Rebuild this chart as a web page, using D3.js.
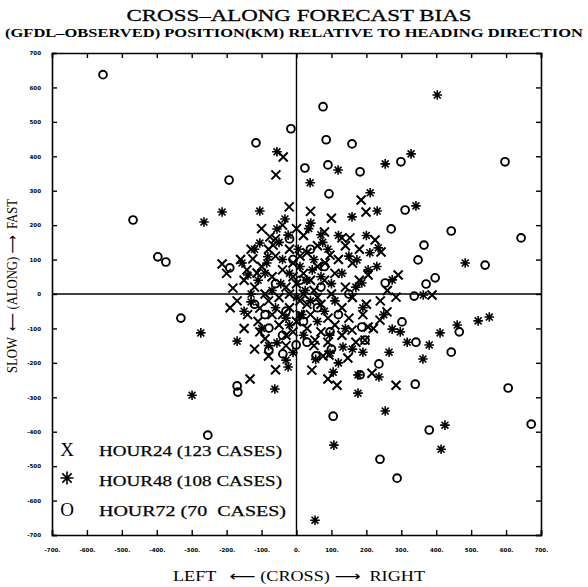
<!DOCTYPE html>
<html><head><meta charset="utf-8">
<script src="https://cdn.jsdelivr.net/npm/d3@7"></script>
<style>body{margin:0;background:#fff}svg{display:block}text{white-space:pre}</style>
</head><body>
<svg id="c" width="588" height="587"></svg>
<script>
const xTicks = [-700,-600,-500,-400,-300,-200,-100,0,100,200,300,400,500,600,700];
const yTicks = [-700,-600,-500,-400,-300,-200,-100,0,100,200,300,400,500,600,700];
const xTickLabels = ["-700.","-600.","-500.","-400.","-300.","-200.","-100.","0.","100.","200.","300.","400.","500.","600.","700."];
const yTickLabels = ["-700","-600","-500","-400","-300","-200","-100","0","100","200","300","400","500","600","700"];
const legendLabels = ["HOUR24 (123 CASES)","HOUR48 (108 CASES)","HOUR72 (70  CASES)"];

// HOUR24 (X) [cross, along]
const hour24 = [[-38,398],[-59,346],[185,273],[-21,253],[199,238],[130,163],[153,163],[-213,87],[-125,102],[-76,166],[-67,142],[-142,70],[-113,61],[-182,17],[96,113],[82,90],[205,55],[291,55],[388,-3],[285,-9],[239,-76],[259,-52],[-105,-110],[-105,-41],[-133,-247],[147,-186],[44,-221],[90,-247],[116,-265],[216,-230],[285,-265],[159,-105],[205,-96],[196,-134],[53,-134],[76,-180],[93,-177],[225,157],[242,122],
[-150,40],[-120,20],[-100,80],[-90,0],[-80,-20],[-70,50],[-60,110],[-50,-10],[-40,70],[-30,20],[-20,-40],[-10,90],[0,30],[10,-20],[20,60],[30,120],[40,-60],[50,10],[60,80],[70,-30],[80,40],[90,-70],[100,0],[110,60],[130,-40],[140,20],[160,-10],[180,40],[200,-30],[-170,-20],[-140,-60],[-110,-80],[-90,-130],[-70,-60],[-50,-90],[-30,-150],[-10,-110],[10,-60],[30,-100],[50,-150],[70,-110],[90,-140],[110,-90],[130,-120],[150,-70],[170,-140],[190,-60],[220,-100],[240,-20],[260,10],[-60,160],[-40,200],[-20,130],[0,190],[20,170],[40,240],[-100,190],[-80,130],[60,140],[80,180],[100,220],[120,100],[140,140],[160,90],[180,130],[-130,130],[-160,100],[-200,60],[-190,-40],[-150,-100],[-120,-160],[-80,-180],[-60,-220],[-40,-60],[-20,0],[0,-80],[20,0],[40,40],[60,-10],[-10,50],[10,110],[30,-30],[-30,-120]];

// HOUR48 (*)
const hour48 = [[403,578],[-56,413],[328,407],[254,378],[119,360],[39,323],[211,294],[-213,238],[-265,209],[-105,241],[159,224],[231,241],[342,256],[483,90],[-274,-113],[-170,-137],[-299,-294],[-62,-276],[-56,-142],[-30,-192],[-24,-212],[520,-78],[552,-67],[460,-90],[411,-113],[380,-148],[317,-140],[297,-110],[274,-102],[362,-189],[265,-169],[133,-154],[96,-172],[105,-227],[176,-235],[236,-241],[176,-288],[254,-340],[425,-381],[414,-451],[107,-439],[53,-657],[190,-169],[70,172],[41,206],[-156,90],[-105,148],[-33,218],[-56,189],[-24,171],[-82,108],[-139,55],[-130,-23],[173,99],[205,70],[187,32],[274,41],[234,134],[363,-3],
[-130,0],[-110,40],[-90,60],[-70,10],[-60,-40],[-40,100],[-30,-70],[-20,60],[0,-10],[10,80],[20,-120],[30,40],[40,-20],[50,100],[60,-80],[70,50],[80,-50],[90,130],[100,30],[110,-20],[120,170],[130,60],[140,-100],[150,110],[170,20],[190,-40],[210,120],[230,80],[250,-60],[-150,-50],[-100,-100],[-80,-150],[-50,150],[-10,-170],[15,-60],[35,190],[55,-190],[75,150],[95,-120],[-20,-90],[-45,30],[5,130],[45,70],[-85,90],[160,-160],[200,170],[120,-200],[-120,130],[25,10]];

// HOUR72 (O)
const hour72 = [[-554,637],[76,544],[-16,480],[85,448],[159,436],[-116,439],[299,384],[597,384],[24,366],[90,375],[182,355],[-193,331],[93,291],[311,244],[-468,215],[271,189],[443,183],[643,163],[365,142],[-397,108],[-374,93],[348,99],[540,84],[-191,76],[397,47],[371,29],[337,-6],[-331,-70],[302,-81],[466,-110],[342,-140],[443,-169],[236,-203],[340,-262],[606,-273],[672,-378],[380,-395],[105,-355],[239,-480],[288,-535],[-254,-410],[-170,-267],[-168,-285],[-79,-163],[-39,-174],[-1,-148],[182,-235],[56,-180],[96,-110],[187,-96],[196,-134],[-79,-99],[254,32],
[-30,-50],[20,-80],[60,-40],[-60,30],[10,40],[40,130],[-10,100],[70,20],[-90,-60],[120,-60],[-40,-120],[150,0],[30,-140],[-20,160],[80,80],[-120,-30],[100,-160]];

const svg = d3.select("#c");
const x = d3.scaleLinear().domain([-700,700]).range([52,541]);
const y = d3.scaleLinear().domain([-700,700]).range([535,53]);
const serif = "'Liberation Serif','DejaVu Serif',serif";
const arrowFont = "'DejaVu Sans',sans-serif";

// titles
svg.append("text").attr("x",299).attr("y",21).attr("text-anchor","middle")
  .attr("font-family",serif).attr("font-size",17.5).attr("textLength",345).attr("lengthAdjust","spacingAndGlyphs")
  .attr("stroke","#000").attr("stroke-width",0.3)
  .text("CROSS\u2013ALONG FORECAST BIAS");
svg.append("text").attr("x",294).attr("y",37).attr("text-anchor","middle")
  .attr("font-family",serif).attr("font-size",12.5).attr("font-weight","bold").attr("textLength",578).attr("lengthAdjust","spacingAndGlyphs")
  .text("(GFDL\u2013OBSERVED) POSITION(KM) RELATIVE TO HEADING DIRECTION");

// axes
const fmtX = d => xTickLabels[xTicks.indexOf(d)];
const fmtY = d => yTickLabels[yTicks.indexOf(d)];
const gB = svg.append("g").attr("transform",`translate(0,${y(-700)})`)
  .call(d3.axisBottom(x).tickValues(xTicks).tickSize(-5).tickPadding(13).tickFormat(fmtX));
const gL = svg.append("g").attr("transform",`translate(${x(-700)},0)`)
  .call(d3.axisLeft(y).tickValues(yTicks).tickSize(-5).tickPadding(11).tickFormat(fmtY));
const gT = svg.append("g").attr("transform",`translate(0,${y(700)})`)
  .call(d3.axisTop(x).tickValues(xTicks).tickSize(-5).tickFormat(""));
const gR = svg.append("g").attr("transform",`translate(${x(700)},0)`)
  .call(d3.axisRight(y).tickValues(yTicks).tickSize(-5).tickFormat(""));
[gB,gL,gT,gR].forEach(g=>{
  g.select(".domain").attr("stroke","#000").attr("stroke-width",1.6);
  g.selectAll(".tick line").attr("stroke","#000").attr("stroke-width",1.4);
  g.selectAll(".tick text").attr("font-family","'DejaVu Sans',sans-serif").attr("font-size",5.5).attr("font-weight","bold").attr("fill","#000");
});

// zero lines
svg.append("line").attr("x1",x(-700)).attr("x2",x(700)).attr("y1",y(0)).attr("y2",y(0)).attr("stroke","#000").attr("stroke-width",1.4);
svg.append("line").attr("x1",x(0)).attr("x2",x(0)).attr("y1",y(700)).attr("y2",y(-700)).attr("stroke","#000").attr("stroke-width",1.4);

// axis titles
const xt = svg.append("text").attr("x",299).attr("y",581).attr("text-anchor","middle")
  .attr("font-family",serif).attr("font-size",14).attr("textLength",252).attr("lengthAdjust","spacingAndGlyphs");
xt.append("tspan").text("LEFT   ");
xt.append("tspan").attr("font-family",arrowFont).text("\u27F5");
xt.append("tspan").text(" (CROSS) ");
xt.append("tspan").attr("font-family",arrowFont).text("\u27F6");
xt.append("tspan").text("  RIGHT");
const yt = svg.append("text").attr("transform","translate(17,286) rotate(-90)").attr("text-anchor","middle")
  .attr("font-family",serif).attr("font-size",14).attr("textLength",174).attr("lengthAdjust","spacingAndGlyphs");
yt.append("tspan").text("SLOW  ");
yt.append("tspan").attr("font-family",arrowFont).text("\u27F5");
yt.append("tspan").text(" (ALONG) ");
yt.append("tspan").attr("font-family",arrowFont).text("\u27F6");
yt.append("tspan").text("  FAST");

// marker paths
const sym = {
  X: s => `M${-s},${-s}L${s},${s}M${-s},${s}L${s},${-s}`,
  A: s => { const d=s*0.72; return `M0,${-s}V${s}M${-s},0H${s}M${-d},${-d}L${d},${d}M${-d},${d}L${d},${-d}`; }
};
const plot = svg.append("g");
plot.selectAll("path.h24").data(hour24).join("path").attr("class","h24")
  .attr("transform",d=>`translate(${x(d[0])},${y(d[1])})`).attr("d",sym.X(4.5))
  .attr("fill","none").attr("stroke","#000").attr("stroke-width",2);
plot.selectAll("path.h48").data(hour48).join("path").attr("class","h48")
  .attr("transform",d=>`translate(${x(d[0])},${y(d[1])})`).attr("d",sym.A(4.8))
  .attr("fill","none").attr("stroke","#000").attr("stroke-width",1.6);
plot.selectAll("circle.h72").data(hour72).join("circle").attr("class","h72")
  .attr("cx",d=>x(d[0])).attr("cy",d=>y(d[1])).attr("r",3.9)
  .attr("fill","none").attr("stroke","#000").attr("stroke-width",1.9);

// legend
const leg = svg.append("g");
leg.append("text").attr("x",67).attr("y",456).attr("text-anchor","middle")
  .attr("font-family",serif).attr("font-size",19).text("X");
leg.append("path").attr("transform","translate(67,478)").attr("d",sym.A(6.5))
  .attr("fill","none").attr("stroke","#000").attr("stroke-width",1.6);
leg.append("text").attr("x",67).attr("y",516).attr("text-anchor","middle")
  .attr("font-family",serif).attr("font-size",19).text("O");
legendLabels.forEach((t,i)=>{
  const yy = 456 + i*30;
  leg.append("text").attr("x",99).attr("y",yy).attr("font-family",serif).attr("font-size",15.5)
    .attr("stroke","#000").attr("stroke-width",0.25)
    .attr("textLength",i==2?187:183).attr("lengthAdjust","spacingAndGlyphs").text(t);
});
</script>
</body></html>
